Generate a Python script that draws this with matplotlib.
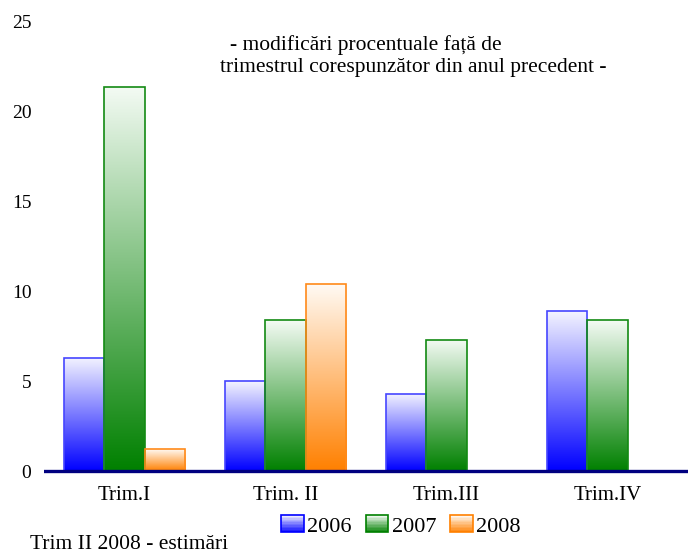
import numpy as np
import matplotlib
matplotlib.use("Agg")
import matplotlib.pyplot as plt
from matplotlib.colors import LinearSegmentedColormap
from matplotlib.patches import Rectangle
from matplotlib.legend_handler import HandlerBase

quarters = ["Trim.I", "Trim. II", "Trim.III", "Trim.IV"]
years = ["2006", "2007", "2008"]
v2006 = [6.3, 5.0, 4.3, 8.9]
v2007 = [21.4, 8.4, 7.3, 8.4]
v2008 = [1.2, 10.4, np.nan, np.nan]
yticks = [0, 5, 10, 15, 20, 25]

series = [v2006, v2007, v2008]
base_colors = ["#0000ff", "#008000", "#ff8000"]
top_colors = ["#f4f4ff", "#f4fbf4", "#fffaf4"]
edge_colors = ["#4646ff", "#138a13", "#ff8a1a"]

plt.rcParams["font.family"] = ["Liberation Serif", "DejaVu Serif"]

fig = plt.figure(figsize=(6.88, 5.55), dpi=100)
ax = fig.add_axes([44/688, 1-480/555, 1-44/688, (480-22)/555])

width = 0.25
x = np.arange(len(quarters))
grad = np.linspace(0, 1, 256).reshape(-1, 1)
cmaps = [LinearSegmentedColormap.from_list(f"g{i}", [base_colors[i], top_colors[i]])
         for i in range(3)]

for i, vals in enumerate(series):
    offs = (i - 1) * width
    bars = ax.bar(x + offs, vals, width, facecolor="none",
                  edgecolor=edge_colors[i], linewidth=1.2, zorder=3)
    for b in bars:
        h = b.get_height()
        if not np.isfinite(h) or h == 0:
            continue
        x0 = b.get_x()
        im = ax.imshow(grad, extent=[x0, x0 + b.get_width(), 0, h], origin="lower",
                       cmap=cmaps[i], aspect="auto", zorder=2, interpolation="bilinear")
        im.set_clip_path(b)

ax.axhline(0, color="#000080", linewidth=2.4, zorder=5)
ax.set_xlim(-0.5, 3.5)
ax.set_ylim(-0.5, 25)
ax.set_yticks(yticks)
ax.set_yticklabels([str(t) for t in yticks], fontsize=14)
ax.set_xticks(x)
ax.set_xticklabels(quarters, fontsize=15)
ax.tick_params(axis="both", length=0)
ax.tick_params(axis="y", pad=9)
ax.tick_params(axis="x", pad=4)
for s in ax.spines.values():
    s.set_visible(False)

fig.text(230/688, 1-50/555, "- modificări procentuale față de", fontsize=15.5, va="baseline")
fig.text(220/688, 1-72/555, "trimestrul corespunzător din anul precedent -", fontsize=15.5, va="baseline")
fig.text(30/688, 6/555, "Trim II 2008 - estimări", fontsize=15.5, va="baseline")


class GradHandler(HandlerBase):
    def __init__(self, idx):
        super().__init__()
        self.idx = idx

    def create_artists(self, legend, orig_handle, xdescent, ydescent, width, height, fontsize, trans):
        arts = []
        n = 12
        cm = cmaps[self.idx]
        for k in range(n):
            arts.append(Rectangle((-xdescent, -ydescent + height * k / n), width, height / n + 0.2,
                                  facecolor=cm((k + 0.5) / n), edgecolor="none", transform=trans))
        arts.append(Rectangle((-xdescent, -ydescent), width, height, facecolor="none",
                              edgecolor=base_colors[self.idx], linewidth=1.2, transform=trans))
        return arts


handles = [Rectangle((0, 0), 1, 1) for _ in years]
fig.legend(handles, years, loc="center", bbox_to_anchor=(401/688, 1-526/555), ncol=3,
           frameon=False, fontsize=16, handlelength=1.0, handleheight=0.8,
           handletextpad=0.15, columnspacing=0.65,
           handler_map={handles[i]: GradHandler(i) for i in range(3)})

fig.savefig("out.png", dpi=100)
